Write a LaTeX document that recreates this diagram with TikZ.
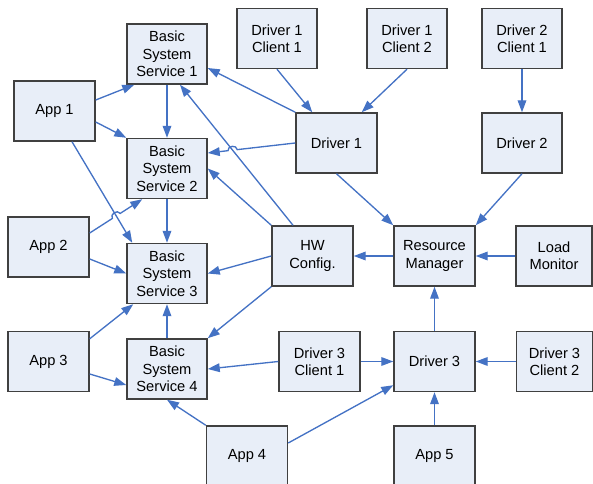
\documentclass[tikz,border=0pt]{standalone}
\usepackage{fontspec}
\setmainfont{Liberation Sans}
\usetikzlibrary{arrows.meta,calc,intersections}

\definecolor{boxfill}{RGB}{232,238,248}
\definecolor{boxline}{RGB}{64,64,64}
\definecolor{linkblue}{RGB}{68,114,196}

\tikzset{
  box/.style={draw=boxline, fill=boxfill, line width=1.1pt, inner sep=0pt,
    minimum width=60.75pt, minimum height=45pt, align=center,
    font=\fontsize{11}{13}\selectfont},
  narrowbox/.style={box, minimum width=60pt},
  slimbox/.style={box, minimum width=57pt},
  link/.style={draw=linkblue, line width=1pt,
    -{Triangle[length=9pt,width=6.5pt]}},
}

\begin{document}
\begin{tikzpicture}[x=0.75pt,y=-0.75pt]
\useasboundingbox (0,0) rectangle (593,484);

% services column
\node[narrowbox] (bss1) at (167,54)    {Basic\\System\\Service 1};
\node[narrowbox] (bss2) at (167,168.5) {Basic\\System\\Service 2};
\node[narrowbox] (bss3) at (167,273.5) {Basic\\System\\Service 3};
\node[narrowbox] (bss4) at (167,369)   {Basic\\System\\Service 4};

% applications
\node[box] (app1) at (54.5,111)  {App 1};
\node[box] (app2) at (48.5,247)  {App 2};
\node[box] (app3) at (48.5,361.5){App 3};
\node[box] (app4) at (247,456)   {App 4};
\node[box] (app5) at (434.5,456) {App 5};

% drivers and their clients
\node[narrowbox] (d1c1) at (277,38.5) {Driver 1\\Client 1};
\node[narrowbox] (d1c2) at (407,38.5) {Driver 1\\Client 2};
\node[narrowbox] (d2c1) at (522,38.5) {Driver 2\\Client 1};
\node[box] (drv1) at (336.5,143) {Driver 1};
\node[narrowbox] (drv2) at (522,143) {Driver 2};
\node[box] (hw)   at (312.5,256) {HW\\Config.};
\node[box] (rm)   at (434.5,256) {Resource\\Manager};
\node[slimbox] (lm) at (554,256) {Load\\Monitor};
\node[box] (drv3) at (434.5,361.5) {Driver 3};
\node[box] (d3c1) at (319.5,361.5) {Driver 3\\Client 1};
\node[slimbox] (d3c2) at (554.5,361.5) {Driver 3\\Client 2};

% application links
\draw[link] ($(app1.east)+(0,-11)$) -- ($(bss1.south west)+(8,0)$);
\draw[link] ($(app1.east)+(0,11)$) -- (bss2.north west);
\draw[link, name path=appone] ($(app1.south)+(17.5,0)$) -- ($(bss3.north west)+(6,0)$);
\draw[link] ($(app2.east)+(0,12)$) -- (bss3.west);
\draw[link] ($(app3.north east)+(0,8)$) -- ($(bss3.south west)+(7,0)$);
\draw[link] ($(app3.east)+(0,12.5)$) -- ($(bss4.west)+(0,16)$);
\draw[link] (app4.north west) -- (bss4.south);
\draw[link] ($(app4.east)+(0,-13)$) -- ($(drv3.south west)+(0,-7)$);
\draw[link] (app5.north) -- (drv3.south);

% App 2 to Service 2, hopping over the App 1 line
\coordinate (a2s) at ($(app2.east)+(0,-14)$);
\coordinate (a2e) at ($(bss2.south west)+(16,0)$);
\path[name path=apptwo] (a2s) -- (a2e);
\path[name intersections={of=appone and apptwo, by=hopa}];
\draw[link] (a2s) -- ($(hopa)!3.5pt!(a2s)$) to[bend left=90, looseness=1.4] ($(hopa)!3.5pt!(a2e)$) -- (a2e);

% service chain
\draw[link] (bss1.south) -- (bss2.north);
\draw[link] (bss2.south) -- (bss3.north);
\draw[link] (bss4.north) -- (bss3.south);

% configuration links
\draw[link, name path=hwone] ($(hw.north)+(-19.5,0)$) -- ($(bss1.south)+(13,0)$);
\draw[link] (hw.north west) -- (bss2.east);
\draw[link] (hw.west) -- (bss3.east);
\draw[link] (hw.south west) -- (bss4.north east);

% driver 1 links
\draw[link] (drv1.north west) -- ($(bss1.east)+(0,14)$);
\coordinate (d1s) at (drv1.west);
\coordinate (d1e) at ($(bss2.east)+(0,-15.5)$);
\path[name path=drvone] (d1s) -- (d1e);
\path[name intersections={of=hwone and drvone, by=hopb}];
\draw[link] (d1s) -- ($(hopb)!3.5pt!(d1s)$) to[bend right=90, looseness=1.4] ($(hopb)!3.5pt!(d1e)$) -- (d1e);
\draw[link] (d1c1.south) -- ($(drv1.north west)+(17,0)$);
\draw[link] (d1c2.south) -- ($(drv1.north east)+(-16,0)$);
\draw[link] (d2c1.south) -- (drv2.north);

% resource manager links
\draw[link] (drv1.south) -- (rm.north west);
\draw[link] (drv2.south) -- (rm.north east);
\draw[link] (rm.west) -- (hw.east);
\draw[link] (lm.west) -- (rm.east);
\draw[link] (drv3.north) -- (rm.south);

% driver 3 links
\draw[link] (d3c1.east) -- (drv3.west);
\draw[link] (d3c2.west) -- (drv3.east);
\draw[link] (d3c1.west) -- (bss4.east);
\end{tikzpicture}
\end{document}
